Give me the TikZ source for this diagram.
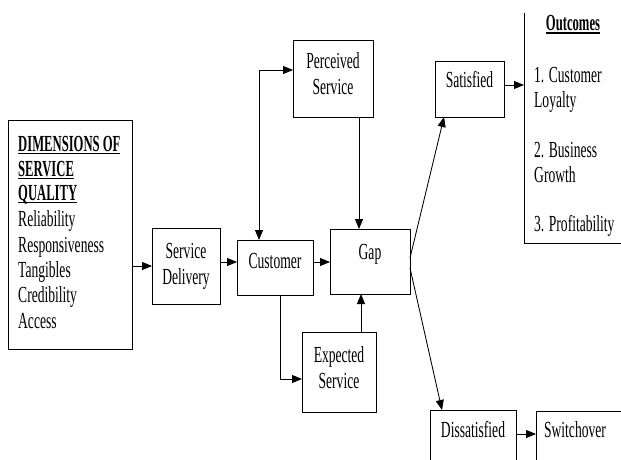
\documentclass[tikz,border=0pt]{standalone}
\usepackage{fontspec}
\setmainfont[FakeStretch=0.59, BoldFeatures={FakeStretch=0.55}]{Liberation Serif}
\usetikzlibrary{arrows.meta,calc}
\newcommand\myul[1]{\setbox0\hbox{#1}\rlap{\rule[-3.2pt]{\wd0}{1.7pt}}\box0}
\begin{document}
\begin{tikzpicture}[x=1pt,y=-1pt,
  box/.style={draw, line width=1pt, inner sep=0pt, outer sep=0pt},
  txt/.style={anchor=base, inner sep=0pt, font=\fontsize{23}{27}\selectfont},
  ltxt/.style={txt, anchor=base west},
  arr/.style={line width=0.85pt, -{Triangle[length=10pt,width=8pt]}},
  arrb/.style={line width=0.85pt, {Triangle[length=10pt,width=8pt]}-{Triangle[length=10pt,width=8pt]}}]
\clip (0,0) rectangle (621,460);
% boxes
\node[box, minimum width=124pt, minimum height=229pt] (dim) at (70,234.5) {};
\node[box, minimum width=80pt, minimum height=76pt] (perc) at (333,79) {};
\node[box, minimum width=68pt, minimum height=76pt] (sd) at (186,266) {};
\node[box, minimum width=76pt, minimum height=55pt] (cust) at (275,267.5) {};
\node[box, minimum width=80pt, minimum height=65pt] (gap) at (370,261.5) {};
\node[box, minimum width=74pt, minimum height=80pt] (exp) at (339,372) {};
\node[box, minimum width=69pt, minimum height=55pt] (sat) at (469.5,89.5) {};
\node[box, minimum width=86pt, minimum height=70pt] (dis) at (473,445) {};
\node[box, minimum width=114pt, minimum height=69pt] (sw) at (593,445.5) {};
\node[inner sep=0pt, outer sep=0pt, minimum width=136pt, minimum height=230pt] (out) at (592,128) {};
\draw[line width=1pt] (out.north west) -- (out.south west) -- (out.south east);
% texts
\node[ltxt] (t1) at (18,151) {\bfseries\myul{DIMENSIONS OF}};
\node[ltxt] (t2) at (18,176) {\bfseries\myul{SERVICE}};
\node[ltxt] (t3) at (18,200) {\bfseries\myul{QUALITY}};
\node[ltxt] (t4) at (18,226) {Reliability};
\node[ltxt] (t5) at (18,252) {Responsiveness};
\node[ltxt] (t6) at (18,277) {Tangibles};
\node[ltxt] (t7) at (18,302) {Credibility};
\node[ltxt] (t8) at (18,328) {Access};
\node[txt] (p1) at (333,69) {Perceived};
\node[txt] (p2) at (333,95) {Service};
\node[txt] (s1) at (186,258) {Service};
\node[txt] (s2) at (186,284) {Delivery};
\node[txt] (c1) at (275,268) {Customer};
\node[txt] (g1) at (370,259) {Gap};
\node[txt] (e1) at (339,362) {Expected};
\node[txt] (e2) at (339,388) {Service};
\node[txt] (sa) at (469.5,88) {Satisfied};
\node[txt] (di) at (473,437) {Dissatisfied};
\node[txt] (swt) at (575,437) {Switchover};
\node[txt] (o0) at (573,31) {\bfseries\myul{Outcomes}};
\node[ltxt] (o1) at (534,82) {1. Customer};
\node[ltxt] (o2) at (534,107) {Loyalty};
\node[ltxt] (o3) at (534,157) {2. Business};
\node[ltxt] (o4) at (534,182) {Growth};
\node[ltxt] (o5) at (534,231) {3. Profitability};
% connectors
\draw[arr] (dim.east |- sd.center) -- (sd.west);
\draw[arr] ([yshift=4pt]sd.east) -- ([yshift=4pt]sd.east -| cust.west);
\draw[arr] ([yshift=5.5pt]cust.east) -- ([yshift=5.5pt]cust.east -| gap.west);
\draw[arrb] ([xshift=-16pt]cust.north) |- ([yshift=9pt]perc.west);
\draw[arr] ([xshift=26pt]perc.south) -- ([xshift=26pt]perc.south |- gap.north);
\draw[arr] ([xshift=5pt]cust.south) |- ([yshift=-7pt]exp.west);
\draw[arr] ([xshift=22pt]exp.north) -- ([xshift=22pt]exp.north |- gap.south);
\draw[arr] ([yshift=3.5pt]gap.east) -- ([xshift=-25.5pt]sat.south);
\draw[arr] ([yshift=-6.5pt]gap.east) -- ([xshift=-31pt]dis.north);
\draw[arr] ([yshift=4.5pt]sat.east) -- ([yshift=4.5pt]sat.east -| out.west);
\draw[arr] ([yshift=11pt]dis.east) -- ([yshift=11pt]dis.east -| sw.west);
\end{tikzpicture}
\end{document}
